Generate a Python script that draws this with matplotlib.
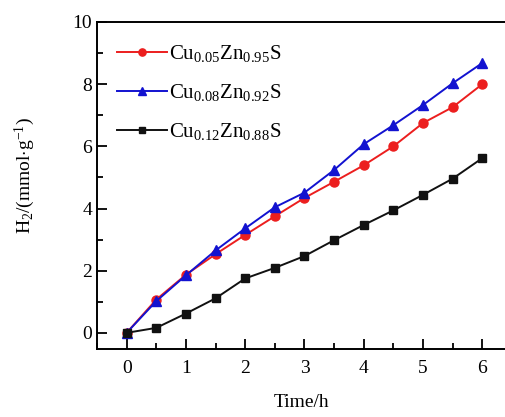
import matplotlib.pyplot as plt
from matplotlib.ticker import MultipleLocator

plt.rcParams['font.family'] = 'Liberation Serif'
plt.rcParams['mathtext.fontset'] = 'custom'
plt.rcParams['mathtext.rm'] = 'Liberation Serif'
plt.rcParams['mathtext.it'] = 'Liberation Serif'

# data
time_h = [0, 0.5, 1, 1.5, 2, 2.5, 3, 3.5, 4, 4.5, 5, 5.5, 6]
h2_005 = [0, 1.07, 1.87, 2.53, 3.15, 3.75, 4.34, 4.86, 5.39, 6.0, 6.75, 7.26, 8.0]
h2_008 = [0, 1.02, 1.85, 2.65, 3.36, 4.04, 4.51, 5.24, 6.07, 6.68, 7.33, 8.03, 8.68]
h2_012 = [0, 0.16, 0.62, 1.11, 1.75, 2.09, 2.47, 2.98, 3.47, 3.94, 4.44, 4.96, 5.62]
labels = [r'Cu$_{0.05}$Zn$_{0.95}$S', r'Cu$_{0.08}$Zn$_{0.92}$S', r'Cu$_{0.12}$Zn$_{0.88}$S']

fig = plt.figure(figsize=(5.06, 4.17), dpi=100)
ax = fig.add_axes([97 / 506, 68 / 417, 409 / 506, 327 / 417])

ax.plot(time_h, h2_005, '-o', color='#ec1e1e', ms=6.5, lw=1.4, label=labels[0])
ax.plot(time_h, h2_008, '-^', color='#1212d0', ms=7.5, lw=1.4, label=labels[1])
ax.plot(time_h, h2_012, '-s', color='#111111', ms=6, lw=1.4, label=labels[2])

ax.set_xlim(-0.5, 6.4)
ax.set_ylim(-0.52, 10)
ax.xaxis.set_major_locator(MultipleLocator(1))
ax.xaxis.set_minor_locator(MultipleLocator(0.5))
ax.yaxis.set_major_locator(MultipleLocator(2))
ax.yaxis.set_minor_locator(MultipleLocator(1))
ax.tick_params(which='both', direction='in', labelsize=14, width=1.3)
ax.tick_params(which='major', length=7)
ax.tick_params(which='minor', length=4)
ax.tick_params(axis='x', pad=8)
for s in ax.spines.values():
    s.set_linewidth(1.4)

ax.set_xlabel('Time/h', fontsize=14, labelpad=12)
ax.set_ylabel(r'H$_2$/(mmol$\cdot$g$^{-1}$)', fontsize=14)
ax.yaxis.set_label_coords(-0.147, 0.53)

ax.legend(loc='upper left', frameon=False, fontsize=15, handlelength=2.4,
          handletextpad=0.1, labelspacing=0.85, borderaxespad=0.0,
          markerscale=0.8, bbox_to_anchor=(0.028, 0.96))

fig.savefig('out.png', dpi=100)
